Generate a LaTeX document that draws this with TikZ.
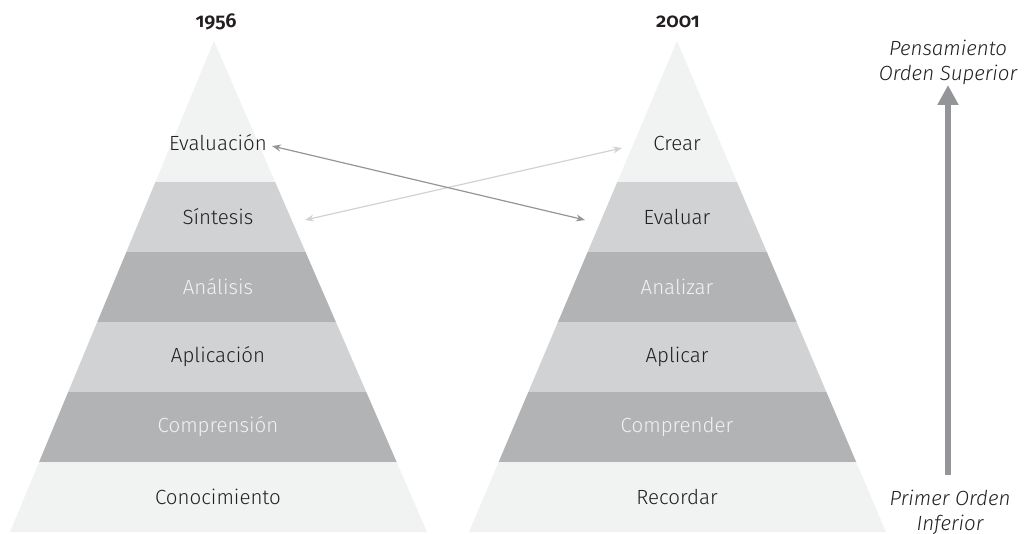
\documentclass[tikz,border=0pt]{standalone}
\usepackage{fontspec}
\setmainfont{Fira Sans}[UprightFont=* Light, ItalicFont=* Light Italic, BoldFont=* SemiBold]
\newfontfamily\yearfont{Fira Sans SemiBold}[RawFeature=+onum]
\usetikzlibrary{arrows.meta}
\definecolor{lightband}{HTML}{F1F2F2}
\definecolor{midband}{HTML}{D1D2D4}
\definecolor{darkband}{HTML}{B2B3B5}
\definecolor{txtdark}{HTML}{231F20}
\definecolor{arrowgray}{HTML}{939598}
\tikzset{
  lbl/.style={font=\fontsize{20.5}{24}\selectfont, text=txtdark, inner sep=0pt},
  lbllight/.style={font=\fontsize{20.5}{24}\selectfont, text=lightband, inner sep=0pt},
  yearlbl/.style={font=\fontsize{20}{24}\yearfont, text=txtdark, inner sep=0pt},
  sidelbl/.style={font=\fontsize{20.5}{25}\selectfont\itshape, text=txtdark, align=center, inner sep=0pt},
  darkarrow/.style={draw=arrowgray, line width=1.2pt, {Stealth[length=9pt,width=7pt]}-{Stealth[length=9pt,width=7pt]}},
  lightarrow/.style={draw=midband, line width=1.2pt, {Stealth[length=9pt,width=7pt]}-{Stealth[length=9pt,width=7pt]}},
  bigarrow/.style={draw=arrowgray, line width=6pt, -{Triangle[length=20pt,width=20pt]}}
}
\begin{document}
\begin{tikzpicture}[x=1pt,y=-1pt]
\useasboundingbox (0,0) rectangle (1025,534);
% left pyramid
\begin{scope}
\clip (10,532) -- (214,41) -- (427,532) -- cycle;
\fill[lightband] (0,30) rectangle (440,182);
\fill[midband] (0,182) rectangle (440,252);
\fill[darkband] (0,252) rectangle (440,322);
\fill[midband] (0,322) rectangle (440,392);
\fill[darkband] (0,392) rectangle (440,462);
\fill[lightband] (0,462) rectangle (440,540);
\end{scope}
% right pyramid
\begin{scope}
\clip (469,532) -- (677,41) -- (886,532) -- cycle;
\fill[lightband] (450,30) rectangle (900,182);
\fill[midband] (450,182) rectangle (900,252);
\fill[darkband] (450,252) rectangle (900,322);
\fill[midband] (450,322) rectangle (900,392);
\fill[darkband] (450,392) rectangle (900,462);
\fill[lightband] (450,462) rectangle (900,540);
\end{scope}
% years
\node[yearlbl] (y1) at (216,22) {1956};
\node[yearlbl] (y2) at (678,22) {2001};
% left labels
\node[lbl] (eval) at (218,143) {Evaluación};
\node[lbl] (sint) at (218,217) {Síntesis};
\node[lbllight] (anal) at (218,287) {Análisis};
\node[lbl] (apli) at (218,357) {Aplicación};
\node[lbllight] (comp) at (218,427) {Comprensión};
\node[lbl] (cono) at (218,497) {Conocimiento};
% right labels
\node[lbl] (crear) at (677,143) {Crear};
\node[lbl] (evaluar) at (677,217) {Evaluar};
\node[lbllight] (analizar) at (677,287) {Analizar};
\node[lbl] (aplicar) at (677,357) {Aplicar};
\node[lbllight] (comprender) at (677,427) {Comprender};
\node[lbl] (recordar) at (677,497) {Recordar};
% cross arrows
\coordinate (a1) at (272,146);
\coordinate (a2) at (585,220);
\coordinate (b1) at (305,220);
\coordinate (b2) at (622,148);
\draw[lightarrow] (b1) -- (b2);
\draw[darkarrow] (a1) -- (a2);
% side
\node[sidelbl] (top) at (948,62) {Pensamiento\\Orden Superior};
\node[sidelbl] (bot) at (950,512) {Primer Orden\\Inferior};
\coordinate (vb) at (948,475);
\coordinate (vt) at (948,85);
\draw[bigarrow] (vb) -- (vt);
\end{tikzpicture}
\end{document}
